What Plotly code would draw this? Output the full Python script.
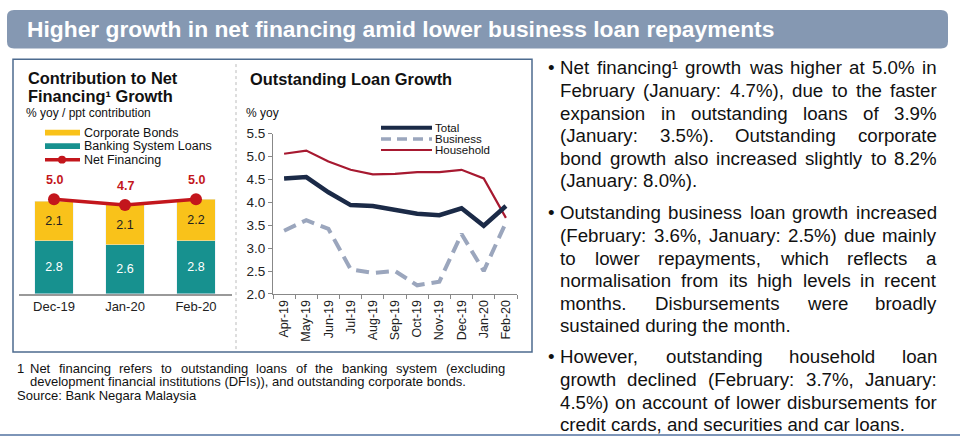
import plotly.graph_objects as go

# left chart: contribution to net financing growth
periods = ['Dec-19', 'Jan-20', 'Feb-20']
corp_bonds = [2.1, 2.1, 2.2]
bank_loans = [2.8, 2.6, 2.8]
net_financing = [5.0, 4.7, 5.0]

# right chart: outstanding loan growth, % yoy
months = ['Apr-19', 'May-19', 'Jun-19', 'Jul-19', 'Aug-19', 'Sep-19',
          'Oct-19', 'Nov-19', 'Dec-19', 'Jan-20', 'Feb-20']
total = [4.52, 4.55, 4.22, 3.94, 3.92, 3.84, 3.75, 3.72, 3.87, 3.49, 3.92]
business = [3.38, 3.61, 3.42, 2.54, 2.46, 2.50, 2.19, 2.27, 3.31, 2.50, 3.56]
household = [5.06, 5.13, 4.89, 4.71, 4.61, 4.62, 4.66, 4.66, 4.71, 4.52, 3.66]

title = 'Higher growth in net financing amid lower business loan repayments'
bullets = [
    ['Net financing¹ growth was higher at 5.0% in',
     'February (January: 4.7%), due to the faster',
     'expansion in outstanding loans of 3.9%',
     '(January: 3.5%). Outstanding corporate',
     'bond growth also increased slightly to 8.2%',
     '(January: 8.0%).'],
    ['Outstanding business loan growth increased',
     '(February: 3.6%, January: 2.5%) due mainly',
     'to lower repayments, which reflects a',
     'normalisation from its high levels in recent',
     'months. Disbursements were broadly',
     'sustained during the month.'],
    ['However, outstanding household loan',
     'growth declined (February: 3.7%, January:',
     '4.5%) on account of lower disbursements for',
     'credit cards, and securities and car loans.'],
]
footnote = ['Net financing refers to outstanding loans of the banking system (excluding',
            'development financial institutions (DFIs)), and outstanding corporate bonds.']
source = 'Source: Bank Negara Malaysia'

YELLOW = '#F9C21A'
TEAL = '#17918F'
RED = '#C3161C'
NAVY = '#1B2A47'
GREYBLUE = '#9BA6BD'
MAROON = '#A71930'
W, H = 960, 445
FONT = 'Liberation Sans, Arial, sans-serif'


def px(x):
    return x / W


def py(y):
    return 1 - y / H


# Arial / Liberation Sans advance widths (per 1000 em), used to justify text
ARIAL = {' ': 278, '%': 889, '(': 333, ')': 333, ',': 278, '-': 333, '.': 278,
         '/': 278, ':': 278, '¹': 333,
         'A': 667, 'B': 667, 'C': 722, 'D': 722, 'E': 667, 'F': 611, 'G': 778,
         'H': 722, 'I': 278, 'J': 500, 'K': 667, 'L': 556, 'M': 833, 'N': 722,
         'O': 778, 'P': 667, 'R': 722, 'S': 667, 'T': 611, 'U': 722, 'V': 667,
         'a': 556, 'b': 556, 'c': 500, 'd': 556, 'e': 556, 'f': 278, 'g': 556,
         'h': 556, 'i': 222, 'j': 222, 'k': 500, 'l': 222, 'm': 833, 'n': 556,
         'o': 556, 'p': 556, 'q': 556, 'r': 333, 's': 500, 't': 278, 'u': 556,
         'v': 500, 'w': 722, 'x': 500, 'y': 500, 'z': 500}


def text_width(s, size):
    return sum(ARIAL.get(ch, 556) for ch in s) * size / 1000


annotations = []


def note(x, y, text, size, color='#111', anchor='left', bold=False, **kw):
    if bold:
        text = '<b>' + text + '</b>'
    annotations.append(dict(x=px(x), y=py(y), xref='paper', yref='paper', text=text,
                            showarrow=False, xanchor=anchor, yanchor='middle',
                            borderpad=0, borderwidth=0,
                            font=dict(size=size, color=color, family=FONT), **kw))


def add_line(line, x0, x1, y, size, justify=True, color='#111'):
    words = line.split(' ')
    if not justify or len(words) < 2:
        note(x0, y, line, size, color)
        return
    widths = [text_width(w, size) for w in words]
    gap = (x1 - x0 - sum(widths)) / (len(words) - 1)
    x = x0
    for i, (w, wd) in enumerate(zip(words, widths)):
        if i == len(words) - 1:
            note(x1, y, w, size, color, anchor='right')
        else:
            note(x, y, w, size, color)
        x += wd + gap


fig = go.Figure()

# ---- left chart
fig.add_trace(go.Bar(x=periods, y=bank_loans, marker_color=TEAL, width=0.54,
                     text=[f'{v:.1f}' for v in bank_loans], textposition='inside',
                     insidetextanchor='middle', textangle=0,
                     textfont=dict(color='white', size=12.5, family=FONT),
                     xaxis='x', yaxis='y', showlegend=False))
fig.add_trace(go.Bar(x=periods, y=corp_bonds, marker_color=YELLOW, width=0.54,
                     text=[f'{v:.1f}' for v in corp_bonds], textposition='inside',
                     insidetextanchor='middle', textangle=0,
                     textfont=dict(color='#222', size=12.5, family=FONT),
                     xaxis='x', yaxis='y', showlegend=False))
fig.add_trace(go.Scatter(x=periods, y=net_financing, mode='lines+markers',
                         line=dict(color=RED, width=3.5), marker=dict(size=12, color=RED),
                         xaxis='x', yaxis='y', showlegend=False))
for p, v in zip(periods, net_financing):
    annotations.append(dict(x=p, y=v, xref='x', yref='y', text=f'<b>{v:.1f}</b>',
                            showarrow=False, yshift=19, yanchor='middle',
                            font=dict(size=12.5, color=RED, family=FONT)))

# ---- right chart
fig.add_trace(go.Scatter(x=months, y=household, mode='lines',
                         line=dict(color=MAROON, width=2.2),
                         xaxis='x2', yaxis='y2', showlegend=False))
fig.add_trace(go.Scatter(x=months, y=business, mode='lines',
                         line=dict(color=GREYBLUE, width=4, dash='13px,7px'),
                         xaxis='x2', yaxis='y2', showlegend=False))
fig.add_trace(go.Scatter(x=months, y=total, mode='lines',
                         line=dict(color=NAVY, width=4.5),
                         xaxis='x2', yaxis='y2', showlegend=False))

shapes = []
# header bar with rounded corners
x0, x1, y0, y1 = px(7), px(948), py(43), py(3)
rx, ry = 7 / W, 7 / H
shapes.append(dict(type='path', xref='paper', yref='paper', fillcolor='#8598B2',
                   line=dict(width=0),
                   path=(f'M {x0+rx},{y0} L {x1-rx},{y0} Q {x1},{y0} {x1},{y0+ry} '
                         f'L {x1},{y1-ry} Q {x1},{y1} {x1-rx},{y1} L {x0+rx},{y1} '
                         f'Q {x0},{y1} {x0},{y1-ry} L {x0},{y0+ry} Q {x0},{y0} {x0+rx},{y0} Z')))
# chart box, divider, bottom rule
shapes.append(dict(type='rect', xref='paper', yref='paper', x0=px(13), x1=px(532),
                   y0=py(357), y1=py(54), line=dict(color='#4D6B8F', width=1.5)))
shapes.append(dict(type='line', xref='paper', yref='paper', x0=px(236), x1=px(236),
                   y0=py(354), y1=py(58), line=dict(color='#BBBBBB', width=1, dash='dot')))
shapes.append(dict(type='line', xref='paper', yref='paper', x0=0, x1=1,
                   y0=py(443), y1=py(443), line=dict(color='#7D95B8', width=2)))

# left legend
shapes.append(dict(type='rect', xref='paper', yref='paper', x0=px(45), x1=px(80),
                   y0=py(133), y1=py(127), fillcolor=YELLOW, line=dict(width=0)))
shapes.append(dict(type='rect', xref='paper', yref='paper', x0=px(45), x1=px(80),
                   y0=py(147), y1=py(141), fillcolor=TEAL, line=dict(width=0)))
shapes.append(dict(type='line', xref='paper', yref='paper', x0=px(45), x1=px(80),
                   y0=py(158), y1=py(158), line=dict(color=RED, width=3.5)))
shapes.append(dict(type='circle', xref='paper', yref='paper', x0=px(58), x1=px(66),
                   y0=py(162), y1=py(154), fillcolor=RED, line=dict(width=0)))
note(84, 130, 'Corporate Bonds', 12.5)
note(84, 144, 'Banking System Loans', 12.5)
note(84, 158, 'Net Financing', 12.5)

# right legend
shapes.append(dict(type='line', xref='paper', yref='paper', x0=px(381), x1=px(432),
                   y0=py(125), y1=py(125), line=dict(color=NAVY, width=4)))
shapes.append(dict(type='line', xref='paper', yref='paper', x0=px(381), x1=px(432),
                   y0=py(136.5), y1=py(136.5), line=dict(color=GREYBLUE, width=3.5, dash='10px,6px')))
shapes.append(dict(type='line', xref='paper', yref='paper', x0=px(381), x1=px(432),
                   y0=py(148), y1=py(148), line=dict(color=MAROON, width=2.2)))
note(435, 125, 'Total', 11.5)
note(435, 136.5, 'Business', 11.5)
note(435, 148, 'Household', 11.5)

# titles
note(27, 23, title, 22.8, color='white', bold=True)
note(28, 73, 'Contribution to Net', 16.4, bold=True)
note(28, 92, 'Financing¹ Growth', 16.4, bold=True)
note(26, 110, '% yoy / ppt contribution', 12)
note(250, 75, 'Outstanding Loan Growth', 16.4, bold=True)
note(246, 110, '% yoy', 12)

# bullet text, justified
starts = [63, 213, 362]
for para, y_start in zip(bullets, starts):
    note(548, y_start, '•', 18.7)
    for i, line in enumerate(para):
        add_line(line, 560, 937, y_start + i * 23.4, 18.7, justify=(i < len(para) - 1))

# footnote
note(17, 374, '1', 13)
add_line(footnote[0], 30, 505, 374, 13)
add_line(footnote[1], 30, 505, 388, 13, justify=False)
note(17, 402, source, 13)

fig.update_layout(
    width=W, height=H, margin=dict(l=0, r=0, t=0, b=0),
    paper_bgcolor='white', plot_bgcolor='white',
    font=dict(family=FONT, color='#111'),
    barmode='stack', bargap=0.3,
    xaxis=dict(domain=[px(18.5), px(231.5)], type='category', range=[-0.5, 2.5],
               showline=True, linecolor='#999', linewidth=1.5, ticks='',
               showgrid=False, tickfont=dict(size=13, color='#222'), fixedrange=True),
    yaxis=dict(domain=[py(297), py(159.8)], range=[0, 7], visible=False, fixedrange=True),
    xaxis2=dict(domain=[px(273), px(517)], type='category', range=[-0.5, 10.5],
                anchor='y2', showline=True, linecolor='#888', ticks='outside',
                tickson='boundaries', ticklen=4, tickcolor='#888', tickangle=-90,
                showgrid=False, tickfont=dict(size=12.5, color='#222'), fixedrange=True),
    yaxis2=dict(domain=[py(297), py(131)], range=[2.0, 5.5], dtick=0.5, tickformat='.1f',
                anchor='x2', showline=True, linecolor='#888', ticks='outside', ticklen=4,
                tickcolor='#888', showgrid=False, zeroline=False,
                tickfont=dict(size=13.5, color='#222'), fixedrange=True),
    shapes=shapes, annotations=annotations,
)

# the page's default body margin would push the figure 8px down and right
fig.write_html('out.html', config={'displayModeBar': False},
               post_script="document.body.style.margin = '0px';")
